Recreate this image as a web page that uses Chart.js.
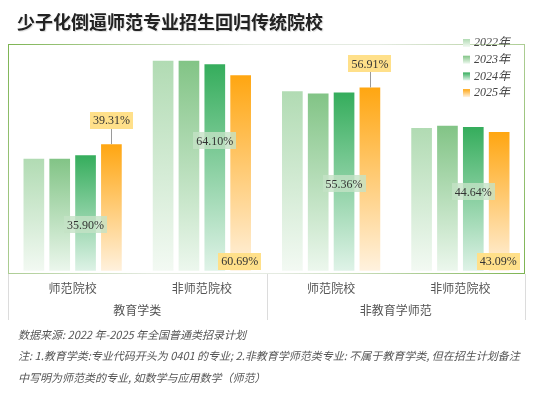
<!DOCTYPE html>
<html>
<head>
<meta charset="utf-8">
<script src="https://cdn.jsdelivr.net/npm/chart.js@4.4.0/dist/chart.umd.min.js"></script>
<style>
  body { margin: 0; background: #fff; }
  #page { position: relative; width: 547px; height: 394px; overflow: hidden; background: #fff; }
  #title {
    position: absolute; left: 17px; top: 8px;
    font: bold 18px "Noto Sans CJK SC", sans-serif; color: #222;
    text-shadow: 1px 1px 1px rgba(0,0,0,0.15);
    white-space: nowrap;
  }
  #wrap { position: absolute; left: 0; top: 0; width: 547px; height: 330px; }
  .note {
    position: absolute; left: 18px;
    font: italic 11px "Noto Sans CJK SC", sans-serif; color: #555;
    white-space: nowrap;
  }
</style>
</head>
<body>
<div id="page">
  <div id="wrap"><canvas id="myChart"></canvas></div>
  <div id="title">少子化倒逼师范专业招生回归传统院校</div>
  <div class="note" style="top:326px">数据来源: 2022 年-2025 年全国普通类招录计划</div>
  <div class="note" style="top:347px">注: 1.教育学类:专业代码开头为 0401 的专业; 2.非教育学师范类专业: 不属于教育学类, 但在招生计划备注</div>
  <div class="note" style="top:369px">中写明为师范类的专业, 如数学与应用数学（师范）</div>
</div>
<script>
const categories = ['师范院校', '非师范院校', '师范院校', '非师范院校'];
const groupNames = ['教育学类', '非教育学师范'];
const years = ['2022年', '2023年', '2024年', '2025年'];
const share2022 = [34.8, 65.2, 55.7, 44.3];
const share2023 = [34.8, 65.2, 55.0, 45.0];
const share2024 = [35.90, 64.10, 55.36, 44.64];
const share2025 = [39.31, 60.69, 56.91, 43.09];

// gradient colours (top, bottom) per year
const shades = [
  ['#b1dbb3', '#f4faf4'],
  ['#82c486', '#eef8ef'],
  ['#35ad5c', '#e2f4ea'],
  ['#ffa611', '#fff3e2'],
];

// where the 2024 label sits, as a share of the bar height
const midLabelAt = [0.40, 0.63, 0.49, 0.55];
// 2025 labels: above the bar or at its foot
const endLabelTop = [true, false, true, false];

function barFill(i) {
  return (ctx) => {
    const chart = ctx.chart;
    const area = chart.chartArea;
    if (!area || ctx.raw === undefined) return shades[i][0];
    const top = chart.scales.y.getPixelForValue(ctx.raw);
    const g = chart.ctx.createLinearGradient(0, top, 0, area.bottom);
    g.addColorStop(0, shades[i][0]);
    g.addColorStop(1, shades[i][1]);
    return g;
  };
}

const series = [share2022, share2023, share2024, share2025];

const data = {
  labels: categories,
  datasets: series.map((vals, i) => ({
    label: years[i],
    data: vals,
    backgroundColor: barFill(i),
    borderWidth: 0,
    categoryPercentage: 0.8,
    barPercentage: 0.8,
  })),
};

const labelFont = '12px "Liberation Serif", serif';

function drawTag(c, text, cx, cy, bg) {
  c.font = labelFont;
  const w = c.measureText(text).width + 6;
  const h = 17;
  c.fillStyle = bg;
  c.fillRect(Math.round(cx - w / 2), Math.round(cy - h / 2), Math.round(w), h);
  c.fillStyle = '#333';
  c.textAlign = 'center';
  c.textBaseline = 'middle';
  c.fillText(text, cx, cy + 1);
}

const framePlugin = {
  id: 'frame',
  beforeDatasetsDraw(chart) {
    const c = chart.ctx;
    const a = chart.chartArea;
    const x = chart.scales.x;
    c.save();
    // axis box below the plot
    c.strokeStyle = '#dcdcdc';
    c.lineWidth = 1;
    const mid = (x.getPixelForTick(1) + x.getPixelForTick(2)) / 2;
    [a.left, mid, a.right].forEach(px => {
      c.beginPath();
      c.moveTo(Math.round(px) + 0.5, a.bottom);
      c.lineTo(Math.round(px) + 0.5, 320);
      c.stroke();
    });
    // plot frame with diagonal gradient
    const g = c.createLinearGradient(a.left, a.top, a.right, a.bottom);
    g.addColorStop(0, '#7db452');
    g.addColorStop(0.4, 'rgba(222,230,218,0.8)');
    g.addColorStop(0.6, 'rgba(222,230,218,0.8)');
    g.addColorStop(1, '#7db452');
    c.strokeStyle = g;
    c.strokeRect(Math.round(a.left) + 0.5, Math.round(a.top) + 0.5,
      Math.round(a.right - a.left) - 1, Math.round(a.bottom - a.top) - 1);
    c.restore();
  },
  afterDatasetsDraw(chart) {
    const c = chart.ctx;
    const y = chart.scales.y;
    c.save();
    // 2024 labels inside the bars
    chart.getDatasetMeta(2).data.forEach((bar, i) => {
      const v = share2024[i];
      const cy = y.getPixelForValue(v * midLabelAt[i]);
      drawTag(c, v.toFixed(2) + '%', bar.x, cy, 'rgba(196,226,198,0.8)');
    });
    // 2025 labels
    chart.getDatasetMeta(3).data.forEach((bar, i) => {
      const v = share2025[i];
      const text = v.toFixed(2) + '%';
      if (endLabelTop[i]) {
        const cy = bar.y - 24;
        c.strokeStyle = '#9a9a9a';
        c.lineWidth = 1;
        c.beginPath();
        c.moveTo(Math.round(bar.x) + 0.5, cy + 8);
        c.lineTo(Math.round(bar.x) + 0.5, bar.y);
        c.stroke();
        drawTag(c, text, bar.x, cy, '#ffe08a');
      } else {
        drawTag(c, text, bar.x - 1, chart.chartArea.bottom - 13, '#ffe08a');
      }
    });
    // legend
    c.font = 'italic 12px "Liberation Serif", "Noto Sans CJK SC", serif';
    c.textAlign = 'left';
    c.textBaseline = 'middle';
    years.forEach((yr, i) => {
      const ly = 43 + i * 16.7;
      const g = c.createLinearGradient(0, ly - 4, 0, ly + 4);
      g.addColorStop(0, shades[i][0]);
      g.addColorStop(1, shades[i][1]);
      c.fillStyle = g;
      c.fillRect(463, ly - 4, 7, 8);
      c.fillStyle = '#444';
      c.fillText(yr, 474, ly);
    });
    c.restore();
  },
};

const tickFont = { family: '"Noto Sans CJK SC", sans-serif', size: 12 };

const config = {
  type: 'bar',
  data,
  options: {
    responsive: true,
    maintainAspectRatio: false,
    animation: false,
    events: [],
    layout: { padding: { left: 8, right: 22, top: 44, bottom: 10 } },
    scales: {
      y: {
        display: false,
        min: -1,
        max: 70.4,
      },
      x: {
        grid: { display: false, drawTicks: false },
        border: { display: false },
        ticks: { padding: 7, color: '#555', font: tickFont },
        afterFit: (scale) => { scale.height = 23; },
      },
      x2: {
        type: 'category',
        labels: groupNames,
        position: 'bottom',
        offset: true,
        grid: { display: false, drawTicks: false },
        border: { display: false },
        ticks: { padding: 6, color: '#555', font: tickFont },
        afterFit: (scale) => { scale.height = 23; },
      },
    },
    plugins: {
      legend: { display: false },
      tooltip: { enabled: false },
    },
  },
  plugins: [framePlugin],
};

new Chart(document.getElementById('myChart'), config);
</script>
</body>
</html>
